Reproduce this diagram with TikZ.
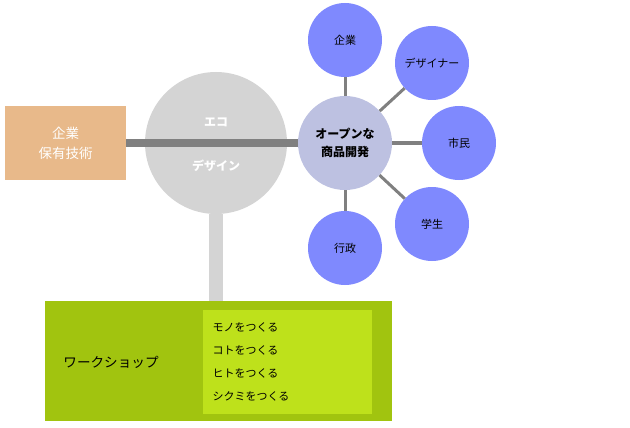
\documentclass[tikz,border=0pt]{standalone}
\usepackage{fontspec}
\newfontfamily\jpfont{Noto Sans CJK JP}
\usetikzlibrary{positioning}
\definecolor{tech}{HTML}{E8B98A}
\definecolor{eco}{HTML}{D4D4D4}
\definecolor{bar}{HTML}{808080}
\definecolor{hub}{HTML}{BDC1E1}
\definecolor{actor}{HTML}{7F89FE}
\definecolor{wsdark}{HTML}{A1C40F}
\definecolor{wslight}{HTML}{BEE11B}

\begin{document}
\begin{tikzpicture}[x=1pt, y=-1pt,
    every node/.style={font=\jpfont},
    actor/.style={circle, fill=actor, minimum size=74pt, inner sep=0pt, font=\jpfont\fontsize{11}{13}\selectfont},
    spoke/.style={draw=bar, line width=3pt},
    item/.style={anchor=west, font=\jpfont\fontsize{11}{13}\selectfont}]
  \useasboundingbox (0,0) rectangle (630,428);
  % left side
  \node[fill=tech, minimum width=121pt, minimum height=74pt, text=white, align=center,
        font=\jpfont\fontsize{13.5}{20}\selectfont] (tech) at (65.5,143) {企業\\保有技術};
  \node[circle, fill=eco, minimum size=142pt, inner sep=0pt] (eco) at (216,143) {};
  % workshop
  \node[fill=wsdark, minimum width=347pt, minimum height=120pt] (ws) at (218.5,361) {};
  \node[fill=wslight, minimum width=169pt, minimum height=104pt] (wsin) at (287.5,362) {};
  \draw[eco, line width=14pt] (eco.south) -- (eco.south |- ws.north);
  \node[font=\jpfont\fontsize{13.6}{15}\selectfont] (wslabel) at (111,362) {ワークショップ};
  \node[item] (mono) at (209,327) {モノをつくる};
  \node[item] (koto) at (209,350) {コトをつくる};
  \node[item] (hito) at (209,373) {ヒトをつくる};
  \node[item] (shikumi) at (209,396) {シクミをつくる};
  % hub and actors
  \node[circle, fill=hub, minimum size=94pt, inner sep=0pt, align=center,
        font=\jpfont\bfseries\fontsize{12}{18}\selectfont] (open) at (345,143) {オープンな\\商品開発};
  \draw[bar, line width=8pt] (tech.east) -- (open.west);
  \node[text=white, font=\jpfont\bfseries\fontsize{12}{14}\selectfont] (ecoTop) at (216,122) {エコ};
  \node[text=white, font=\jpfont\bfseries\fontsize{12}{14}\selectfont] (ecoBot) at (216,166) {デザイン};
  \node[actor] (kigyo) at (345,40) {企業};
  \node[actor] (designer) at (432,63) {デザイナー};
  \node[actor] (shimin) at (459,143) {市民};
  \node[actor] (gakusei) at (432,224) {学生};
  \node[actor] (gyosei) at (345,248) {行政};
  \foreach \a in {kigyo, designer, shimin, gakusei, gyosei}
    \draw[spoke] (open) -- (\a);
\end{tikzpicture}
\end{document}
